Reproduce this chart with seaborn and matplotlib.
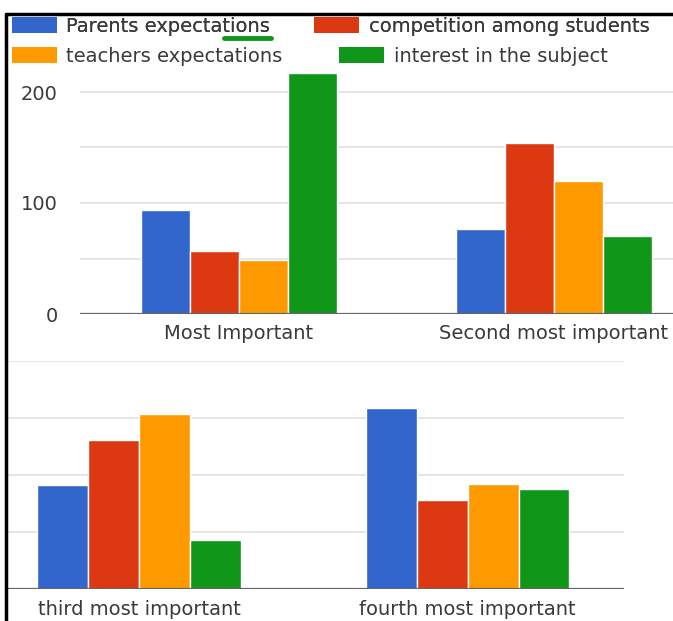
import matplotlib
matplotlib.use("Agg")
import matplotlib.pyplot as plt
from matplotlib.lines import Line2D
from matplotlib.patches import Patch
import seaborn as sns
import pandas as pd

# ---- data ----
ranks_top = ["Most Important", "Second most important"]
ranks_bottom = ["third most important", "fourth most important"]
series = ["Parents expectations", "competition among students",
          "teachers expectations", "interest in the subject"]
parents = [94, 77, 91, 159]
competition = [57, 154, 131, 78]
teachers = [49, 120, 153, 92]
interest = [217, 70, 43, 88]
colors = ["#3366CC", "#DC3912", "#FF9900", "#109618"]

all_ranks = ranks_top + ranks_bottom
rows = []
for s, vals in zip(series, [parents, competition, teachers, interest]):
    for r, v in zip(all_ranks, vals):
        rows.append({"rank": r, "series": s, "count": v})
df = pd.DataFrame(rows)

sns.set_theme(style="white")
plt.rcParams["font.family"] = ["DejaVu Sans"]
TXT = "#3a3a3a"
FS = 14

W, H = 673, 621
fig = plt.figure(figsize=(W / 100, H / 100), dpi=100)

def fx(px):
    return px / W

def fy(px):
    return (H - px) / H

pal = dict(zip(series, colors))

# ---- bottom panel ----
axb = fig.add_axes([fx(8), fy(589.3), fx(624 - 8), (589.3 - 360.7) / H])
sns.barplot(data=df[df["rank"].isin(ranks_bottom)], x="rank", y="count",
            hue="series", hue_order=series, order=ranks_bottom, palette=pal,
            width=0.62, edgecolor="white", linewidth=1, saturation=1,
            legend=False, ax=axb, zorder=3)
axb.set_ylim(0, 200)
axb.set_xlim(-0.399, 1.476)
axb.set_yticks([0, 50, 100, 150, 200])
axb.set_yticklabels([])
axb.grid(axis="y", color="#e3e3e3", linewidth=1.3, zorder=0)
axb.axhline(0, color="#666666", linewidth=1.6, zorder=4)
for sp in axb.spines.values():
    sp.set_visible(False)
axb.set_xlabel("")
axb.set_ylabel("")
axb.tick_params(axis="both", length=0)
axb.tick_params(axis="x", pad=8, labelsize=FS, labelcolor=TXT)

# ---- top panel ----
axt = fig.add_axes([fx(80), fy(314), fx(673 - 80), (314 - 70) / H])
sns.barplot(data=df[df["rank"].isin(ranks_top)], x="rank", y="count",
            hue="series", hue_order=series, order=ranks_top, palette=pal,
            width=0.62, edgecolor="white", linewidth=1, saturation=1,
            legend=False, ax=axt, zorder=3)
axt.set_ylim(0, 244 / 1.11)
axt.set_xlim(-0.505, 1.378)
axt.set_yticks([0, 50, 100, 150, 200])
axt.set_yticklabels(["0", "", "100", "", "200"])
axt.grid(axis="y", color="#e3e3e3", linewidth=1.3, zorder=0)
axt.axhline(0, color="#666666", linewidth=1.6, zorder=4)
for sp in axt.spines.values():
    sp.set_visible(False)
axt.set_xlabel("")
axt.set_ylabel("")
axt.tick_params(axis="both", length=0)
axt.tick_params(axis="y", pad=16, labelsize=FS, labelcolor=TXT)
axt.tick_params(axis="x", pad=7, labelsize=FS, labelcolor=TXT)

# ---- legend (two rows, Google Charts style) ----
def make_leg(idx, x_px, y_px, spacing):
    handles = [Patch(facecolor=colors[i], edgecolor="none") for i in idx]
    labels = [series[i] for i in idx]
    leg = fig.legend(handles, labels, loc="upper left",
                     bbox_to_anchor=(fx(x_px), fy(y_px)), ncol=2,
                     frameon=False, fontsize=FS, handlelength=2.3,
                     handleheight=0.9, handletextpad=0.5,
                     columnspacing=spacing, borderpad=0, borderaxespad=0,
                     labelcolor=TXT)
    return leg

leg1 = make_leg([0, 1], 12, 16.5, 2.25)
fig.add_artist(leg1)
leg2 = make_leg([2, 3], 12, 46.5, 2.9)

# small green underline artifact under the first legend entry
fig.add_artist(Line2D([fx(224), fx(271)], [fy(37.5), fy(37.5)],
                      color="#109618", linewidth=3.5))

# ---- black frame of the screenshot ----
fig.add_artist(Line2D([fx(6), fx(6)], [fy(13.5), 0], color="black", linewidth=2.5))
fig.add_artist(Line2D([fx(6), 1], [fy(13.5), fy(13.5)], color="black", linewidth=2.5))

fig.savefig("out.png", dpi=100, facecolor="white")
